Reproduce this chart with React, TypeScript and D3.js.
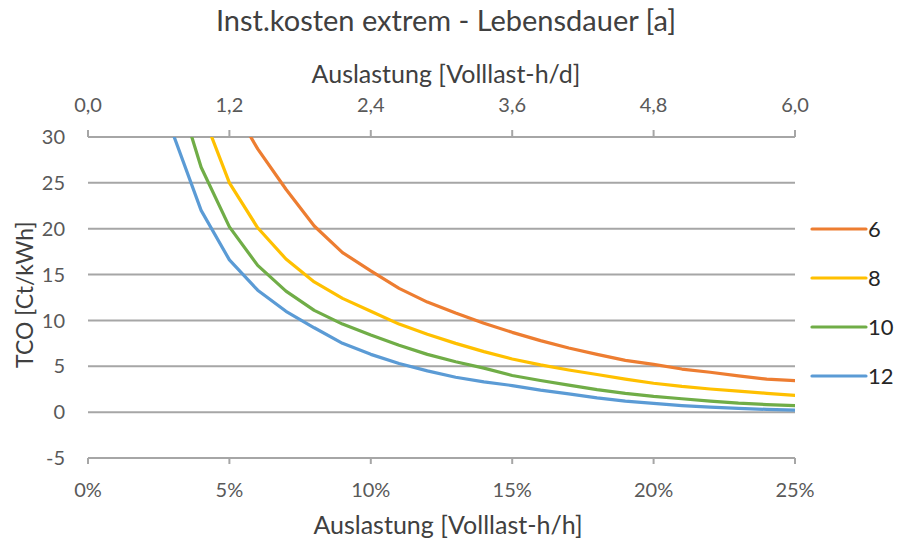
import React from "react";
import * as d3 from "d3";

// TCO [Ct/kWh] per Lebensdauer, one value per full percent of Auslastung starting at seriesStart
const tco6 = [34.0, 28.7, 24.3, 20.3, 17.4, 15.4, 13.5, 12.0, 10.8, 9.7, 8.7, 7.8, 7.0, 6.3, 5.65, 5.2, 4.7, 4.35, 3.95, 3.6, 3.43];
const tco8 = [33.0, 25.0, 20.1, 16.7, 14.2, 12.4, 11.0, 9.6, 8.5, 7.5, 6.6, 5.8, 5.15, 4.6, 4.1, 3.6, 3.15, 2.8, 2.52, 2.3, 2.05, 1.82];
const tco10 = [36.7, 26.7, 20.2, 16.0, 13.2, 11.1, 9.6, 8.4, 7.3, 6.3, 5.5, 4.8, 4.0, 3.45, 2.95, 2.45, 2.05, 1.72, 1.46, 1.2, 0.98, 0.83, 0.72];
const tco12 = [30.4, 22.0, 16.6, 13.3, 11.0, 9.2, 7.5, 6.3, 5.3, 4.5, 3.8, 3.3, 2.9, 2.4, 2.0, 1.55, 1.2, 0.95, 0.72, 0.55, 0.42, 0.3, 0.22];

const seriesNames = ["6", "8", "10", "12"];
const seriesColors = ["#ED7D31", "#FFC000", "#70AD47", "#5B9BD5"];
const seriesValues = [tco6, tco8, tco10, tco12];
// first Auslastung value (in %) of each series
const seriesStart = [5, 4, 3, 3];

const bottomTicks = [0, 5, 10, 15, 20, 25];
const topTicks = [0, 1.2, 2.4, 3.6, 4.8, 6.0];
const yTicks = [-5, 0, 5, 10, 15, 20, 25, 30];

const FONT = "Lato, 'Open Sans', sans-serif";

export default function App() {
  const W = 900;
  const H = 541;
  const left = 88;
  const right = 795;
  const top = 137;
  const bottom = 458;

  const x = d3.scaleLinear().domain([0, 25]).range([left, right]);
  const xTop = d3.scaleLinear().domain([0, 6]).range([left, right]);
  const y = d3.scaleLinear().domain([-5, 30]).range([bottom, top]);

  const line = d3
    .line<[number, number]>()
    .x((d) => x(d[0]))
    .y((d) => y(d[1]));

  const grid = "#A6A6A6";
  const tickColor = "#595959";
  const titleColor = "#404040";

  return (
    <svg
      width={W}
      height={H}
      style={{ position: "absolute", left: 0, top: 0, background: "#fff" }}
      fontFamily={FONT}
    >
      <defs>
        <clipPath id="plotClip">
          <rect x={left} y={top} width={right - left} height={bottom - top} />
        </clipPath>
      </defs>

      <text x={446} y={31} textAnchor="middle" fontSize={29} fill={titleColor}>
        Inst.kosten extrem - Lebensdauer [a]
      </text>

      <text x={446} y={83} textAnchor="middle" fontSize={25} fill={titleColor}>
        Auslastung [Volllast-h/d]
      </text>

      {/* horizontal gridlines */}
      {yTicks
        .filter((t) => t > -5)
        .map((t) => (
          <line key={"g" + t} x1={left} x2={right} y1={y(t)} y2={y(t)} stroke={grid} strokeWidth={2} />
        ))}
      {/* bottom axis */}
      <line x1={left} x2={right} y1={y(-5)} y2={y(-5)} stroke={grid} strokeWidth={2} />
      {bottomTicks.map((t) => (
        <line key={"bt" + t} x1={x(t)} x2={x(t)} y1={y(-5)} y2={y(-5) + 6} stroke={grid} strokeWidth={2} />
      ))}
      {/* top axis ticks */}
      {topTicks.map((t) => (
        <line key={"tt" + t} x1={xTop(t)} x2={xTop(t)} y1={y(30)} y2={y(30) - 7} stroke={grid} strokeWidth={2} />
      ))}

      {/* y tick labels */}
      {yTicks.map((t) => (
        <text key={"yl" + t} x={65} y={y(t)} dy="0.36em" textAnchor="end" fontSize={20} fill={tickColor}>
          {t}
        </text>
      ))}
      {/* top tick labels */}
      {topTicks.map((t) => (
        <text key={"tl" + t} x={xTop(t)} y={112} textAnchor="middle" fontSize={20} fill={tickColor}>
          {d3.format(".1f")(t).replace(".", ",")}
        </text>
      ))}
      {/* bottom tick labels */}
      {bottomTicks.map((t) => (
        <text key={"bl" + t} x={x(t)} y={497} textAnchor="middle" fontSize={20} fill={tickColor}>
          {t + "%"}
        </text>
      ))}

      <text x={448} y={534} textAnchor="middle" fontSize={25} fill={titleColor}>
        Auslastung [Volllast-h/h]
      </text>

      <text
        transform={`translate(33, ${y(12.8)}) rotate(-90)`}
        textAnchor="middle"
        fontSize={23}
        fill={titleColor}
      >
        TCO [Ct/kWh]
      </text>

      {/* series */}
      <g clipPath="url(#plotClip)">
        {seriesValues.map((vals, i) => {
          const pts: [number, number][] = vals.map((v, j) => [seriesStart[i] + j, v]);
          return (
            <path
              key={"s" + i}
              d={line(pts) || ""}
              fill="none"
              stroke={seriesColors[i]}
              strokeWidth={3.2}
              strokeLinejoin="round"
              strokeLinecap="round"
            />
          );
        })}
      </g>

      {/* legend */}
      {seriesNames.map((name, i) => {
        const ly = 229 + i * 49;
        return (
          <g key={"lg" + i}>
            <line x1={812} x2={866} y1={ly} y2={ly} stroke={seriesColors[i]} strokeWidth={3.2} strokeLinecap="round" />
            <text x={868} y={ly} dy="0.36em" fontSize={22} fill="#262626">
              {name}
            </text>
          </g>
        );
      })}
    </svg>
  );
}
